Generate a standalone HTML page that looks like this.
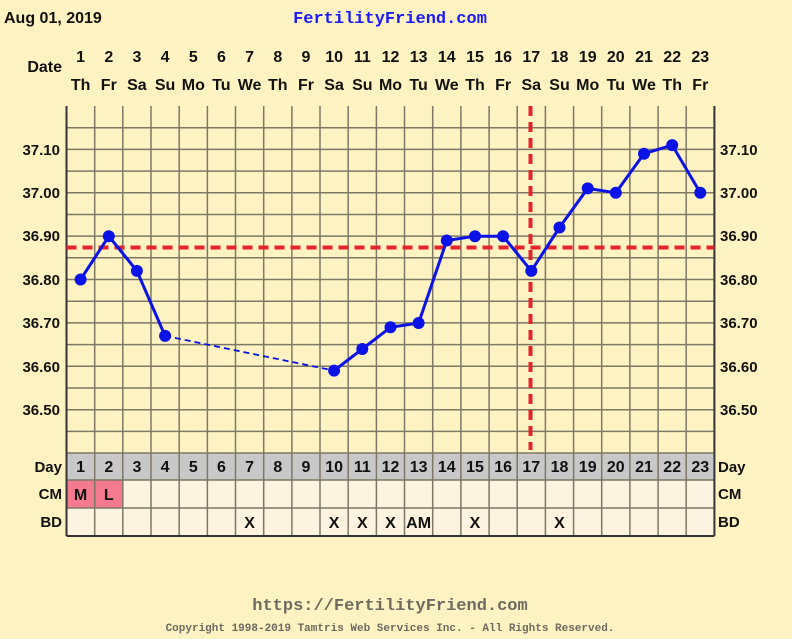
<!DOCTYPE html>
<html><head><meta charset="utf-8"><style>
html,body{margin:0;padding:0;background:#fdf2c2;}
svg{display:block;font-family:"Liberation Sans",sans-serif;font-weight:bold;}
</style></head><body>
<svg width="792" height="639" viewBox="0 0 792 639" xmlns="http://www.w3.org/2000/svg">
<rect width="792" height="639" fill="#fdf2c2"/>
<text x="4" y="23" font-size="16" fill="#111">Aug 01, 2019</text>
<text x="390" y="23" font-size="17" fill="#1a1aff" text-anchor="middle" font-family="Liberation Mono,monospace">FertilityFriend.com</text>
<text x="62" y="72" font-size="16" text-anchor="end" fill="#111">Date</text>
<g font-size="16" fill="#111" text-anchor="middle">
<text x="80.6" y="62">1</text><text x="108.8" y="62">2</text><text x="136.9" y="62">3</text><text x="165.1" y="62">4</text><text x="193.3" y="62">5</text><text x="221.4" y="62">6</text><text x="249.6" y="62">7</text><text x="277.8" y="62">8</text><text x="306" y="62">9</text><text x="334.1" y="62">10</text><text x="362.3" y="62">11</text><text x="390.5" y="62">12</text><text x="418.6" y="62">13</text><text x="446.8" y="62">14</text><text x="475" y="62">15</text><text x="503.1" y="62">16</text><text x="531.3" y="62">17</text><text x="559.5" y="62">18</text><text x="587.7" y="62">19</text><text x="615.8" y="62">20</text><text x="644" y="62">21</text><text x="672.2" y="62">22</text><text x="700.3" y="62">23</text>
<text x="80.6" y="90">Th</text><text x="108.8" y="90">Fr</text><text x="136.9" y="90">Sa</text><text x="165.1" y="90">Su</text><text x="193.3" y="90">Mo</text><text x="221.4" y="90">Tu</text><text x="249.6" y="90">We</text><text x="277.8" y="90">Th</text><text x="306" y="90">Fr</text><text x="334.1" y="90">Sa</text><text x="362.3" y="90">Su</text><text x="390.5" y="90">Mo</text><text x="418.6" y="90">Tu</text><text x="446.8" y="90">We</text><text x="475" y="90">Th</text><text x="503.1" y="90">Fr</text><text x="531.3" y="90">Sa</text><text x="559.5" y="90">Su</text><text x="587.7" y="90">Mo</text><text x="615.8" y="90">Tu</text><text x="644" y="90">We</text><text x="672.2" y="90">Th</text><text x="700.3" y="90">Fr</text>
</g>
<!-- chart area -->
<rect x="66.5" y="106" width="647.9" height="347" fill="#fdf2c2"/>
<rect x="66.5" y="453" width="647.9" height="27" fill="#c8c8c8"/>
<rect x="66.5" y="480" width="647.9" height="56" fill="#fcf3e0"/>
<rect x="66.5" y="480" width="56.3" height="28" fill="#f47a90"/>
<g stroke="#7d7866" stroke-width="1.5">
<line x1="66.5" y1="127.7" x2="714.4" y2="127.7"/><line x1="66.5" y1="149.4" x2="714.4" y2="149.4"/><line x1="66.5" y1="171.1" x2="714.4" y2="171.1"/><line x1="66.5" y1="192.8" x2="714.4" y2="192.8"/><line x1="66.5" y1="214.5" x2="714.4" y2="214.5"/><line x1="66.5" y1="236.1" x2="714.4" y2="236.1"/><line x1="66.5" y1="257.8" x2="714.4" y2="257.8"/><line x1="66.5" y1="279.5" x2="714.4" y2="279.5"/><line x1="66.5" y1="301.2" x2="714.4" y2="301.2"/><line x1="66.5" y1="322.9" x2="714.4" y2="322.9"/><line x1="66.5" y1="344.6" x2="714.4" y2="344.6"/><line x1="66.5" y1="366.3" x2="714.4" y2="366.3"/><line x1="66.5" y1="388" x2="714.4" y2="388"/><line x1="66.5" y1="409.7" x2="714.4" y2="409.7"/><line x1="66.5" y1="431.4" x2="714.4" y2="431.4"/>
<line x1="66.5" y1="453" x2="714.4" y2="453"/><line x1="66.5" y1="480" x2="714.4" y2="480"/><line x1="66.5" y1="508" x2="714.4" y2="508"/>
<line x1="94.7" y1="106" x2="94.7" y2="536"/><line x1="122.8" y1="106" x2="122.8" y2="536"/><line x1="151" y1="106" x2="151" y2="536"/><line x1="179.2" y1="106" x2="179.2" y2="536"/><line x1="207.4" y1="106" x2="207.4" y2="536"/><line x1="235.5" y1="106" x2="235.5" y2="536"/><line x1="263.7" y1="106" x2="263.7" y2="536"/><line x1="291.9" y1="106" x2="291.9" y2="536"/><line x1="320" y1="106" x2="320" y2="536"/><line x1="348.2" y1="106" x2="348.2" y2="536"/><line x1="376.4" y1="106" x2="376.4" y2="536"/><line x1="404.5" y1="106" x2="404.5" y2="536"/><line x1="432.7" y1="106" x2="432.7" y2="536"/><line x1="460.9" y1="106" x2="460.9" y2="536"/><line x1="489.1" y1="106" x2="489.1" y2="536"/><line x1="517.2" y1="106" x2="517.2" y2="536"/><line x1="545.4" y1="106" x2="545.4" y2="536"/><line x1="573.6" y1="106" x2="573.6" y2="536"/><line x1="601.7" y1="106" x2="601.7" y2="536"/><line x1="629.9" y1="106" x2="629.9" y2="536"/><line x1="658.1" y1="106" x2="658.1" y2="536"/><line x1="686.2" y1="106" x2="686.2" y2="536"/>
</g>
<g stroke="#333" stroke-width="2" fill="none">
<line x1="66.5" y1="106" x2="66.5" y2="536"/><line x1="714.4" y1="106" x2="714.4" y2="536"/><line x1="66.5" y1="536" x2="714.4" y2="536"/>
</g>
<!-- temp labels -->
<g font-size="15" fill="#111">
<g text-anchor="end"><text x="60" y="155">37.10</text><text x="60" y="198">37.00</text><text x="60" y="241">36.90</text><text x="60" y="285">36.80</text><text x="60" y="328">36.70</text><text x="60" y="372">36.60</text><text x="60" y="415">36.50</text></g>
<g><text x="720" y="155">37.10</text><text x="720" y="198">37.00</text><text x="720" y="241">36.90</text><text x="720" y="285">36.80</text><text x="720" y="328">36.70</text><text x="720" y="372">36.60</text><text x="720" y="415">36.50</text></g>
</g>
<!-- red lines -->
<line x1="66.5" y1="247.5" x2="714.4" y2="247.5" stroke="#e8222a" stroke-width="4" stroke-dasharray="10,6"/>
<line x1="530.5" y1="106" x2="530.5" y2="450" stroke="#e8222a" stroke-width="4" stroke-dasharray="10,6"/>
<!-- data -->
<g stroke="#0b12e6" fill="none" stroke-width="3">
<polyline points="80.6,279.5 108.8,236.2 136.9,270.9 165.1,335.9"/>
<line x1="165.1" y1="335.9" x2="334.1" y2="370.6" stroke-width="1.8" stroke-dasharray="6,4"/>
<polyline points="334.1,370.6 362.3,349 390.5,327.3 418.6,323 446.8,240.5 475,236.2 503.1,236.2 531.3,270.9 559.5,227.5 587.7,188.4 615.8,192.8 644,153.7 672.2,145.1 700.3,192.8"/>
</g>
<g fill="#0b12e6">
<circle cx="80.6" cy="279.5" r="6"/><circle cx="108.8" cy="236.2" r="6"/><circle cx="136.9" cy="270.9" r="6"/><circle cx="165.1" cy="335.9" r="6"/><circle cx="334.1" cy="370.6" r="6"/><circle cx="362.3" cy="349" r="6"/><circle cx="390.5" cy="327.3" r="6"/><circle cx="418.6" cy="323" r="6"/><circle cx="446.8" cy="240.5" r="6"/><circle cx="475" cy="236.2" r="6"/><circle cx="503.1" cy="236.2" r="6"/><circle cx="531.3" cy="270.9" r="6"/><circle cx="559.5" cy="227.5" r="6"/><circle cx="587.7" cy="188.4" r="6"/><circle cx="615.8" cy="192.8" r="6"/><circle cx="644" cy="153.7" r="6"/><circle cx="672.2" cy="145.1" r="6"/><circle cx="700.3" cy="192.8" r="6"/>
</g>
<!-- bottom rows -->
<g font-size="15" fill="#111">
<text x="62" y="472" text-anchor="end">Day</text><text x="62" y="499" text-anchor="end">CM</text><text x="62" y="527" text-anchor="end">BD</text>
<text x="718" y="472">Day</text><text x="718" y="499">CM</text><text x="718" y="527">BD</text>
</g>
<g font-size="16" fill="#111" text-anchor="middle">
<text x="80.6" y="472">1</text><text x="108.8" y="472">2</text><text x="136.9" y="472">3</text><text x="165.1" y="472">4</text><text x="193.3" y="472">5</text><text x="221.4" y="472">6</text><text x="249.6" y="472">7</text><text x="277.8" y="472">8</text><text x="306" y="472">9</text><text x="334.1" y="472">10</text><text x="362.3" y="472">11</text><text x="390.5" y="472">12</text><text x="418.6" y="472">13</text><text x="446.8" y="472">14</text><text x="475" y="472">15</text><text x="503.1" y="472">16</text><text x="531.3" y="472">17</text><text x="559.5" y="472">18</text><text x="587.7" y="472">19</text><text x="615.8" y="472">20</text><text x="644" y="472">21</text><text x="672.2" y="472">22</text><text x="700.3" y="472">23</text>
<text x="80.6" y="500">M</text><text x="108.8" y="500">L</text>
<text x="249.6" y="528">X</text><text x="334.1" y="528">X</text><text x="362.3" y="528">X</text><text x="390.5" y="528">X</text><text x="418.6" y="528">AM</text><text x="475" y="528">X</text><text x="559.5" y="528">X</text>
</g>
<text x="390" y="610" font-size="17" fill="#6e6a60" text-anchor="middle" font-family="Liberation Mono,monospace">https://FertilityFriend.com</text>
<text x="390" y="631" font-size="11" fill="#6e6a60" text-anchor="middle" font-family="Liberation Mono,monospace">Copyright 1998-2019 Tamtris Web Services Inc. - All Rights Reserved.</text>
</svg>
</body></html>
